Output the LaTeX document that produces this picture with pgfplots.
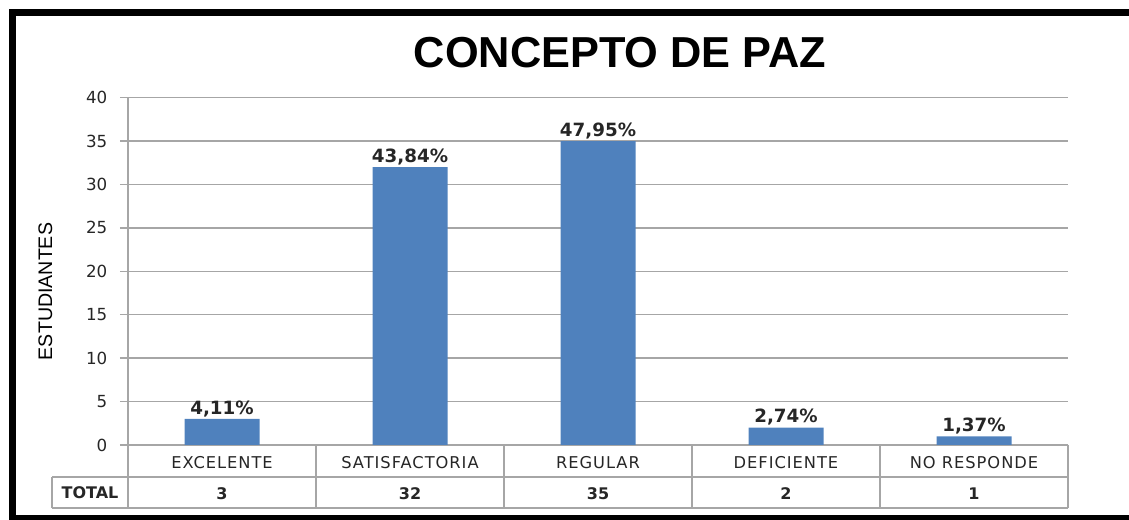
\documentclass[border=0pt]{standalone}
\usepackage{fontspec}
\setmainfont{Liberation Sans}
\newfontfamily\dejavu{DejaVu Sans}
\newfontfamily\dejavuls[LetterSpace=6]{DejaVu Sans}
\usepackage{pgfplots}
\pgfplotsset{compat=1.18}
\definecolor{barblue}{HTML}{4F81BD}
\definecolor{gridgray}{HTML}{A6A6A6}
\begin{document}
\begin{tikzpicture}[x=1pt,y=1pt]
\path[use as bounding box] (0,0) rectangle (846.75,390);
% outer frame
\draw[black, line width=5.6pt] (846.75,380.44) -- (9.56,380.44) -- (9.56,2);
\draw[black, line width=3.5pt] (7,1.75) -- (846.75,1.75);
% title
\node[font=\bfseries\fontsize{32.5}{36}\selectfont, inner sep=0pt] at (465,350.25) {CONCEPTO DE PAZ};
\begin{axis}[
  at={(96pt,56.25pt)}, anchor=south west,
  scale only axis, width=705pt, height=260.5pt,
  xmin=-0.5, xmax=4.5, ymin=0, ymax=40,
  clip=false,
  /pgf/number format/assume math mode=true,
  axis x line*=bottom, axis y line*=left,
  axis line style={gridgray, line width=1pt},
  ymajorgrids, grid style={gridgray, line width=1pt},
  ytick={0,5,...,40},
  ytick style={gridgray, line width=1pt},
  tick align=outside, major tick length=6pt,
  yticklabel style={font=\dejavu\fontsize{12.5}{14}\selectfont, text=black!85, xshift=-6pt},
  xtick={0,1,2,3,4},
  xtick style={draw=none},
  xticklabels={EXCELENTE,SATISFACTORIA,REGULAR,DEFICIENTE,NO RESPONDE},
  xticklabel style={font=\dejavuls\fontsize{12.2}{14}\selectfont, text=black!85, anchor=center, yshift=-7pt},
  extra x ticks={0,1,2,3,4},
  extra x tick labels={3,32,35,2,1},
  extra x tick style={xtick style={draw=none}, xticklabel style={font=\dejavu\bfseries\fontsize{12}{14}\selectfont, text=black!85, anchor=center, yshift=-23.6pt}},
  ylabel={ESTUDIANTES},
  ylabel style={at={(rel axis cs:0,0.442)}, anchor=center, yshift=61.9pt, font=\fontsize{14.7}{16}\selectfont},
  nodes near coords={\pgfmathprintnumber[fixed, fixed zerofill, precision=2, use comma, assume math mode=true]{\pgfplotspointmeta}\%},
  every node near coord/.append style={font=\dejavu\bfseries\fontsize{13.7}{15}\selectfont, text=black!85, inner sep=1.5pt},
]
\addplot[ybar, bar width=56.25pt, fill=barblue, draw=none, point meta=explicit]
  coordinates {(0,3) [4.11] (1,32) [43.84] (2,35) [47.95] (3,2) [2.74] (4,1) [1.37]};
% data table grid
\draw[gridgray, line width=1pt] (axis cs:-0.904,-3.686) -- (axis cs:4.5,-3.686);
\draw[gridgray, line width=1pt] (axis cs:-0.904,-7.256) -- (axis cs:4.5,-7.256);
\draw[gridgray, line width=1pt] (axis cs:-0.904,-3.686) -- (axis cs:-0.904,-7.256);
\draw[gridgray, line width=1pt] (axis cs:-0.5,0) -- (axis cs:-0.5,-7.256);
\draw[gridgray, line width=1pt] (axis cs:0.5,0) -- (axis cs:0.5,-7.256);
\draw[gridgray, line width=1pt] (axis cs:1.5,0) -- (axis cs:1.5,-7.256);
\draw[gridgray, line width=1pt] (axis cs:2.5,0) -- (axis cs:2.5,-7.256);
\draw[gridgray, line width=1pt] (axis cs:3.5,0) -- (axis cs:3.5,-7.256);
\draw[gridgray, line width=1pt] (axis cs:4.5,0) -- (axis cs:4.5,-7.256);
\node[font=\dejavu\bfseries\fontsize{12}{14}\selectfont, text=black!85] at (axis cs:-0.702,-5.47) {TOTAL};
\end{axis}
\end{tikzpicture}
\end{document}
